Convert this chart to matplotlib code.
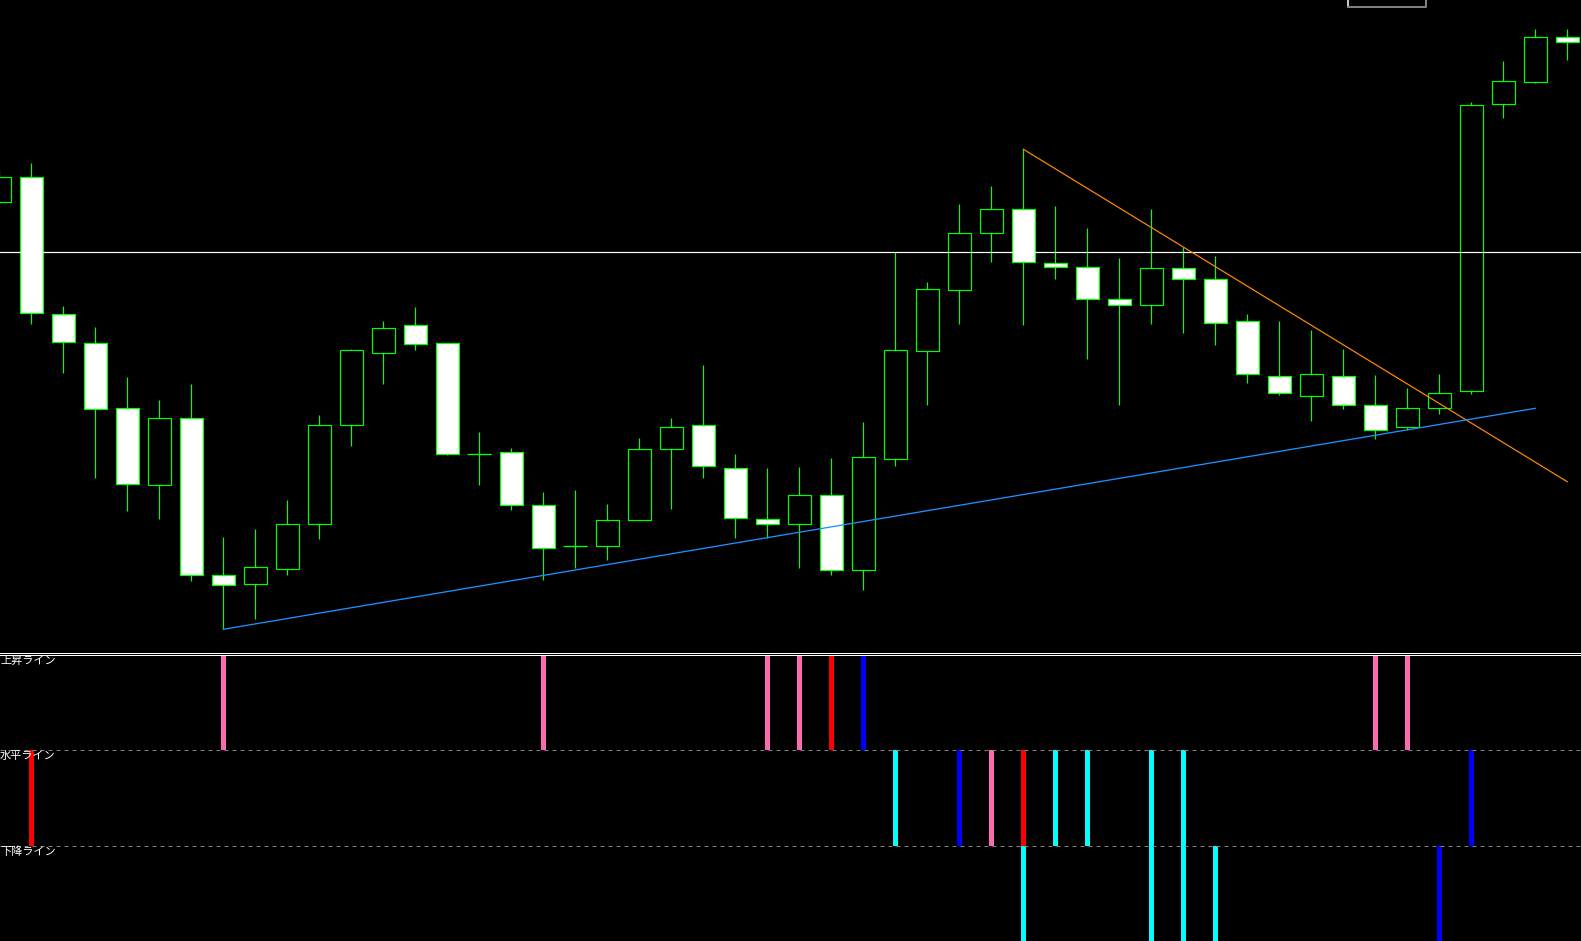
import matplotlib
matplotlib.use('Agg')
import matplotlib.pyplot as plt
from matplotlib.lines import Line2D

plt.rcParams['font.family'] = ['Noto Sans CJK JP', 'DejaVu Sans']

# ---------------- data (price units) ----------------
opens = [147.985, 148.234, 146.858, 146.568, 145.917, 145.146, 145.817, 144.254, 144.163, 144.313,
         144.764, 145.747, 146.472, 146.746, 146.568, 145.465, 145.477, 144.955, 144.545, 144.545,
         144.797, 145.515, 145.747, 145.324, 144.806, 144.764, 145.046, 144.296, 145.415, 146.493,
         147.102, 147.666, 147.915, 147.368, 147.326, 147.007, 146.953, 147.318, 147.206, 146.787,
         146.244, 146.045, 146.244, 145.946, 145.726, 145.925, 146.095, 148.964, 149.183, 149.635]
highs = [148.300, 148.371, 146.941, 146.729, 146.232, 146.000, 146.161, 144.632, 144.710, 145.000,
         145.850, 146.510, 146.791, 146.928, 146.568, 145.680, 145.519, 145.079, 145.100, 144.959,
         145.618, 145.821, 146.352, 145.461, 145.320, 145.328, 145.419, 145.780, 147.480, 147.181,
         147.960, 148.139, 148.508, 147.940, 147.720, 147.422, 147.911, 147.530, 147.438, 146.862,
         146.791, 146.700, 146.510, 146.248, 146.120, 146.261, 148.980, 149.391, 149.710, 149.710]
lows = [147.950, 146.762, 146.273, 145.225, 144.893, 144.806, 144.192, 143.707, 143.815, 144.246,
        144.611, 145.540, 146.161, 146.505, 145.448, 145.146, 144.905, 144.205, 144.325, 144.404,
        144.797, 144.913, 145.216, 144.623, 144.619, 144.325, 144.246, 144.105, 145.345, 145.954,
        146.762, 147.376, 146.754, 147.214, 146.414, 145.946, 146.762, 146.675, 146.555, 146.174,
        146.054, 145.792, 145.913, 145.606, 145.705, 145.863, 146.062, 148.819, 149.175, 149.399]
closes = [148.234, 146.866, 146.576, 145.913, 145.158, 145.817, 144.246, 144.155, 144.329, 144.760,
          145.751, 146.497, 146.725, 146.563, 145.465, 145.465, 144.955, 144.524, 144.545, 144.797,
          145.515, 145.726, 145.345, 144.818, 144.756, 145.046, 144.304, 145.428, 146.505, 147.106,
          147.674, 147.907, 147.384, 147.326, 147.015, 146.953, 147.318, 147.206, 146.775, 146.257,
          146.070, 146.257, 145.954, 145.705, 145.925, 146.070, 148.955, 149.188, 149.627, 149.577]

horizontal_level = 147.480
down_line_x = [32, 49]
down_line_y = [148.508, 145.183]
up_line_x = [7, 48]
up_line_y = [143.707, 145.917]

row_labels = ['上昇ライン', '水平ライン', '下降ライン']
up_idx = [7, 17, 24, 25, 26, 27, 43, 44]
up_col = ['#ff69b4', '#ff69b4', '#ff69b4', '#ff69b4', '#ff0000', '#0000ff', '#ff69b4', '#ff69b4']
hz_idx = [1, 28, 30, 31, 32, 33, 34, 36, 37, 46]
hz_col = ['#ff0000', '#00ffff', '#0000ff', '#ff69b4', '#ff0000', '#00ffff', '#00ffff', '#00ffff', '#00ffff', '#0000ff']
dn_idx = [32, 36, 37, 38, 45]
dn_col = ['#00ffff', '#00ffff', '#00ffff', '#00ffff', '#0000ff']

# ---------------- figure ----------------
W, H = 1581, 941
fig = plt.figure(figsize=(W / 100, H / 100), dpi=100, facecolor='black')
px = 0.72  # one pixel in points

XLIM = (0.022, 49.43)
GREEN = '#00ff00'

ax = fig.add_axes([0, 1 - 651 / H, 1, 651 / H])
ax.set_facecolor('black')
ax.set_xlim(*XLIM)
ax.set_ylim(143.49, 150.0)
ax.axis('off')

n = len(opens)
xs = list(range(n))
ax.vlines(xs, lows, highs, color=GREEN, lw=1.0 * px * 1.2, zorder=1)
bottoms = [min(o, c) for o, c in zip(opens, closes)]
heights = [abs(c - o) for o, c in zip(opens, closes)]
faces = ['white' if c < o else 'black' for o, c in zip(opens, closes)]
ax.bar(xs, heights, bottom=bottoms, width=0.73, color=faces, edgecolor=GREEN,
       linewidth=1.2 * px, zorder=2)
for i in range(n):
    if heights[i] == 0:
        ax.hlines(opens[i], i - 0.375, i + 0.375, color=GREEN, lw=1.2 * px, zorder=2)

ax.axhline(horizontal_level, color='white', lw=1.2 * px, zorder=3)
ax.plot(down_line_x, down_line_y, color='#ff8c00', lw=1.2 * px, zorder=4)
ax.plot(up_line_x, up_line_y, color='#1e90ff', lw=1.3 * px, zorder=4)

# ---------------- indicator panel ----------------
sub = fig.add_axes([0, 0, 1, 286 / H])
sub.set_facecolor('black')
sub.set_xlim(*XLIM)
sub.set_ylim(0, 3)
sub.axis('off')

bw = 5 / 32
sub.bar(up_idx, [1] * len(up_idx), bottom=2, width=bw, color=up_col, zorder=2)
sub.bar(hz_idx, [1] * len(hz_idx), bottom=1, width=bw, color=hz_col, zorder=2)
sub.bar(dn_idx, [1] * len(dn_idx), bottom=0, width=bw, color=dn_col, zorder=2)
for yy in (2, 1):
    sub.axhline(yy, color='#808080', lw=px, ls=(0, (4, 4)), zorder=3)

tr = sub.get_yaxis_transform()
for lab, yy in zip(row_labels, (3, 2, 1)):
    sub.text(0.0, yy - 0.01, lab, transform=tr, ha='left', va='top',
             color='white', fontsize=8, zorder=5)

# separator lines between panels
for yp in (652.5, 654.5):
    fig.add_artist(Line2D([0, 1], [1 - yp / H, 1 - yp / H], transform=fig.transFigure,
                          color='white', lw=px))

# small frame at top right (window button remnant)
fig.add_artist(Line2D([1348 / W, 1348 / W], [1, 1 - 7 / H], transform=fig.transFigure,
                      color='#c8c8c8', lw=2 * px))
fig.add_artist(Line2D([1348 / W, 1426 / W, 1426 / W], [1 - 7 / H, 1 - 7 / H, 1],
                      transform=fig.transFigure, color='#808080', lw=2 * px))

fig.savefig('out.png', dpi=100, facecolor='black')
